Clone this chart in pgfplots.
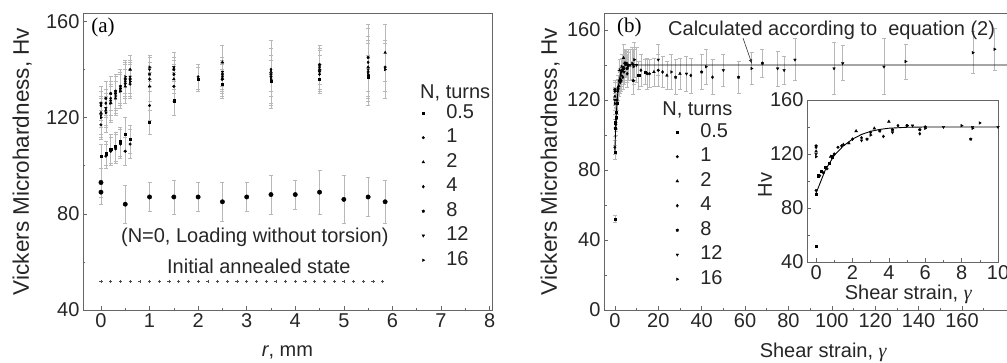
\documentclass[border=0pt]{standalone}
\usepackage{fontspec}
\setmainfont{Liberation Sans}
\newfontfamily\seriffont{Liberation Serif}
\usepackage{pgfplots}
\pgfplotsset{compat=1.18}
\usepackage{pgfplotstable}

% ---------- panel (a) data: r (mm), Hv, error ----------
\pgfplotstableread{
x y e
0 104 5
0.1 105 5
0.2 107 6
0.3 108 6
0.4 110 6
0.5 113 7
0.6 111 6
1 118 5
1.5 127 6
2 136 5
2.5 134 6
3.5 135 9
4.5 136 6
5.5 137 9
}\aA
\pgfplotstableread{
x y e
0 117 6
0.1 104 5
0.2 106 6
0.3 107 6
0.4 109 6
0.5 106 6
0.6 109 6
1 125 6
1.5 133 6
2 137 5
2.5 136 6
3.5 137 12
4.5 138 8
5.5 139 12
5.85 141 10
}\aB
\pgfplotstableread{
x y e
0 122 6
0.1 123 6
0.2 126 7
0.3 128 7
0.4 131 7
0.5 133 7
0.6 140 6
1 133 6
1.5 136 6
2.5 143 7
3.5 139 10
4.5 140 8
5.5 141 13
5.85 147 12
}\aC
\pgfplotstableread{
x y e
0 125 6
0.1 126 6
0.2 128 7
0.3 130 7
0.4 132 7
0.5 135 7
0.6 134 6
1 136 5
1.5 138 6
2.5 137 6
3.5 140 9
4.5 141 7
5.5 143 14
}\aD
\pgfplotstableread{
x y e
0 126 7
0.1 128 7
0.2 130 7
0.3 131 7
0.4 133 7
0.5 136 7
0.6 136 7
1 138 5
1.5 140 5
2.5 138 6
3.5 138 14
4.5 142 8
5.5 145 14
}\aE
\pgfplotstableread{
x y e
0 121 8
0.1 124 8
0.2 127 8
0.3 130 8
0.4 132 8
0.5 134 8
0.6 137 7
1 140 5
1.5 141 6
2.5 139 6
4.5 139 9
5.5 140 12
}\aF
\pgfplotstableread{
x y e
0 120 8
0.1 122 8
0.2 126 8
0.3 129 8
0.4 131 7
0.5 137 7
0.6 135 7
1 141 5
1.5 138 6
2.5 136 7
3.5 136 10
4.5 140 9
5.5 138 13
5.85 140 12
}\aG
\pgfplotstableread{
x y e
0 89 5
0 93 6
0.5 84 8
1 87 6
1.5 87 7
2 87 6
2.5 85 8
3 87 6
3.5 88 8
4 88 6
4.5 89 9
5 86 10
5.5 87 8
5.85 85 9
}\aZero

% ---------- panel (b) data: shear strain, Hv, error ----------
\pgfplotstableread{
x y e
0 52 2
0 90 4
0.1 104 5
0.3 107 5
0.5 110 6
0.7 113 6
0.9 118 6
11 134 8
14 136 7
}\bA
\pgfplotstableread{
x y e
0 93 4
0.2 104 5
0.4 106 6
0.6 109 6
1.0 120 6
1.2 125 6
16 135 8
20 137 9
}\bB
\pgfplotstableread{
x y e
0 122 5
0.8 118 6
1.5 127 7
1.8 128 6
2.2 137 6
3.2 139 7
4 144 8
18 136 8
24 134 8
30 135 9
}\bC
\pgfplotstableread{
x y e
0 125 5
1.4 126 6
2 131 6
2.5 132 6
3 136 7
3.7 133 7
4.5 141 8
5.7 135 8
12 137 9
22 136 9
35 134 10
45 133 10
}\bD
\pgfplotstableread{
x y e
0 126 5
2.8 131 6
3.5 137 7
4.2 138 7
5 141 8
5.7 138 8
6 140 9
8.5 131 8
15 135 9
28 133 10
40 136 10
57 133 9
68 141 8
}\bE
\pgfplotstableread{
x y e
0 120 6
2.5 130 6
4.2 136 7
5.3 141 8
7 140 9
8.6 140 9
10 140 10
20 143 9
33 135 10
50 137 9
75 138 10
78 137 8
83 143 12
101 138 15
105 141 10
124 139 16
}\bF
\pgfplotstableread{
x y e
0 118 6
3 134 6
5 141 7
6 139 8
8 141 9
8.6 139 10
9 143 10
26 136 10
42 139 10
63 138 9
134 142 10
165 147 12
175 149 12
}\bG
\pgfplotstableread{
x y
0 91
0.5 108
1 119
1.5 126
2 131
2.5 134.5
3 136.8
3.5 138.2
4 139.1
5 139.8
6 140
10 140
195 140
}\calc

\pgfplotsset{
  myaxis/.style={
    scale only axis,
    anchor=south west,
    axis line style={black!60, line width=0.8pt},
    tick style={black!60, line width=0.6pt},
    tick pos=left,
    major tick length=4pt, minor tick length=2.5pt,
    /pgf/number format/assume math mode=true,
    tick label style={font=\fontsize{20}{24}\selectfont, text=black!85},
    label style={font=\fontsize{20}{24}\selectfont, text=black!85},
    clip=true,
  },
  ebars/.style={only marks, black, mark size=1.3pt,
    error bars/y dir=both, error bars/y explicit,
    error bars/error bar style={black!28, line width=0.5pt},
    error bars/error mark options={rotate=90, black!28, mark size=2pt, line width=0.5pt}},
  pt/.style={only marks, black, mark size=1.3pt},
  legstyle/.style={legend style={draw=none, fill=none, anchor=north west,
    font=\fontsize{20}{24}\selectfont, text=black!85, row sep=4.5pt,
    inner sep=0pt, column sep=0pt,
    nodes={inner sep=1pt, text height=14pt, text depth=4pt}},
    legend cell align=left,
    legend image code/.code={\path[draw=none, fill=none] (0pt,-3pt) rectangle (30pt,3pt);
      \draw[##1, only marks] plot coordinates {(8pt,0pt)};}},
}

\begin{document}
\begin{tikzpicture}
\path[use as bounding box] (0pt,0pt) rectangle (1007pt,362pt);

% ================= panel (a) =================
\begin{axis}[myaxis,
  at={(83pt,52pt)}, width=409pt, height=297pt,
  xmin=-0.37, xmax=8.05, ymin=40, ymax=163.5,
  xtick={0,1,...,8}, minor x tick num=1,
  ytick={40,80,120,160}, minor y tick num=1,
  xlabel={\textit{r}, mm},
  ylabel={Vickers Microhardness, Hv},
  xlabel style={at={(axis description cs:0.5,-0.142)}, anchor=center},
  ylabel style={at={(axis description cs:-0.149,0.5)}, anchor=center, font=\fontsize{22.5}{26}\selectfont},
  legstyle, legend style={at={(axis description cs:0.812,0.697)}},
]
\addplot[ebars, mark=square*, mark size=1.1pt] table[x=x,y=y,y error=e]{\aA};
\addlegendentry{0.5}
\addplot[ebars, mark=*] table[x=x,y=y,y error=e]{\aB};
\addlegendentry{1}
\addplot[ebars, mark=triangle*, mark size=1.6pt] table[x=x,y=y,y error=e]{\aC};
\addlegendentry{2}
\addplot[ebars, mark=diamond*, mark size=1.5pt] table[x=x,y=y,y error=e]{\aD};
\addlegendentry{4}
\addplot[ebars, mark=pentagon*, mark size=1.4pt] table[x=x,y=y,y error=e]{\aE};
\addlegendentry{8}
\addplot[ebars, mark=triangle*, mark size=1.5pt, mark options={rotate=180}] table[x=x,y=y,y error=e]{\aF};
\addlegendentry{12}
\addplot[ebars, mark=triangle*, mark size=1.5pt, mark options={rotate=-90}] table[x=x,y=y,y error=e]{\aG};
\addlegendentry{16}
\addplot[ebars, mark=*, mark size=2.2pt, forget plot] table[x=x,y=y,y error=e]{\aZero};
\addplot[only marks, mark=+, mark size=1.6pt, black!70, line width=0.6pt, forget plot] coordinates {
 (0,52)(0.2,52)(0.4,52)(0.6,52)(0.8,52)(1,52)(1.2,52)(1.4,52)(1.6,52)(1.8,52)
 (2,52)(2.2,52)(2.4,52)(2.6,52)(2.8,52)(3,52)(3.2,52)(3.4,52)(3.6,52)(3.8,52)
 (4,52)(4.2,52)(4.4,52)(4.6,52)(4.8,52)(5,52)(5.2,52)(5.4,52)(5.6,52)(5.8,52)};
\node[font={\seriffont\fontsize{21}{24}\selectfont}, anchor=north west, inner sep=0pt] at (axis description cs:0.02,0.985) {(a)};
\node[font=\fontsize{20}{24}\selectfont, text=black!85] at (axis description cs:0.42,0.245) {(N=0, Loading without torsion)};
\node[font=\fontsize{20}{24}\selectfont, text=black!85] at (axis description cs:0.43,0.148) {Initial annealed state};
\node[font=\fontsize{20}{24}\selectfont, text=black!85, anchor=west, inner sep=0pt] at (axis description cs:0.824,0.73) {N, turns};
\end{axis}

% ================= panel (b) =================
\begin{axis}[myaxis,
  at={(604pt,52pt)}, width=434pt, height=297pt,
  xmin=-5, xmax=195, ymin=0, ymax=169.7,
  xtick={0,20,...,160}, minor xtick={10,30,...,190},
  ytick={0,40,80,120,160}, minor y tick num=1,
  xlabel={Shear strain, {\seriffont\itshape γ}},
  ylabel={Vickers Microhardness, Hv},
  xlabel style={at={(axis description cs:0.505,-0.142)}, anchor=center},
  ylabel style={at={(axis description cs:-0.124,0.5)}, anchor=center, font=\fontsize{22.5}{26}\selectfont},
  legstyle, legend style={at={(axis description cs:0.15,0.633)}},
]
\addplot[ebars, mark=square*, mark size=1.1pt] table[x=x,y=y,y error=e]{\bA};
\addlegendentry{0.5}
\addplot[ebars, mark=*] table[x=x,y=y,y error=e]{\bB};
\addlegendentry{1}
\addplot[ebars, mark=triangle*, mark size=1.6pt] table[x=x,y=y,y error=e]{\bC};
\addlegendentry{2}
\addplot[ebars, mark=diamond*, mark size=1.5pt] table[x=x,y=y,y error=e]{\bD};
\addlegendentry{4}
\addplot[ebars, mark=pentagon*, mark size=1.4pt] table[x=x,y=y,y error=e]{\bE};
\addlegendentry{8}
\addplot[ebars, mark=triangle*, mark size=1.5pt, mark options={rotate=180}] table[x=x,y=y,y error=e]{\bF};
\addlegendentry{12}
\addplot[ebars, mark=triangle*, mark size=1.5pt, mark options={rotate=-90}] table[x=x,y=y,y error=e]{\bG};
\addlegendentry{16}
\addplot[black, line width=0.9pt, no marks, forget plot] table[x=x,y=y]{\calc};
\node[font={\seriffont\fontsize{21}{24}\selectfont}, anchor=north west, inner sep=0pt] at (axis description cs:0.03,0.985) {(b)};
\node[font=\fontsize{20}{24}\selectfont, text=black!85, anchor=west, inner sep=0pt] at (axis description cs:0.134,0.673) {N, turns};
\end{axis}
\node[font=\fontsize{20}{24}\selectfont, text=black!85, anchor=west, inner sep=0pt] at (668pt,332pt) {Calculated according to\ \ equation (2)};
\draw[black!80, line width=0.6pt, -{latex}] (743pt,324pt) -- (752pt,298pt);

% ================= inset =================
\begin{axis}[myaxis,
  at={(807pt,100pt)}, width=191pt, height=162pt,
  xmin=-0.5, xmax=10, ymin=40, ymax=160,
  xtick={0,2,...,10}, minor x tick num=1,
  ytick={40,80,120,160}, minor y tick num=1,
  axis background/.style={fill=white},
  xlabel={Shear strain, {\seriffont\itshape γ}},
  ylabel={Hv},
  xlabel style={at={(axis description cs:0.53,-0.2)}, anchor=center},
  ylabel style={at={(axis description cs:-0.22,0.475)}, anchor=center},
]
\addplot[pt, mark=square*, mark size=1.1pt] table[x=x,y=y]{\bA};
\addplot[pt, mark=*] table[x=x,y=y]{\bB};
\addplot[pt, mark=triangle*, mark size=1.6pt] table[x=x,y=y]{\bC};
\addplot[pt, mark=diamond*, mark size=1.5pt] table[x=x,y=y]{\bD};
\addplot[pt, mark=pentagon*, mark size=1.4pt] table[x=x,y=y]{\bE};
\addplot[pt, mark=triangle*, mark size=1.5pt, mark options={rotate=180}] table[x=x,y=y]{\bF};
\addplot[pt, mark=triangle*, mark size=1.5pt, mark options={rotate=-90}] table[x=x,y=y]{\bG};
\addplot[black, line width=0.9pt, no marks] table[x=x,y=y]{\calc};
\end{axis}
\end{tikzpicture}
\end{document}
